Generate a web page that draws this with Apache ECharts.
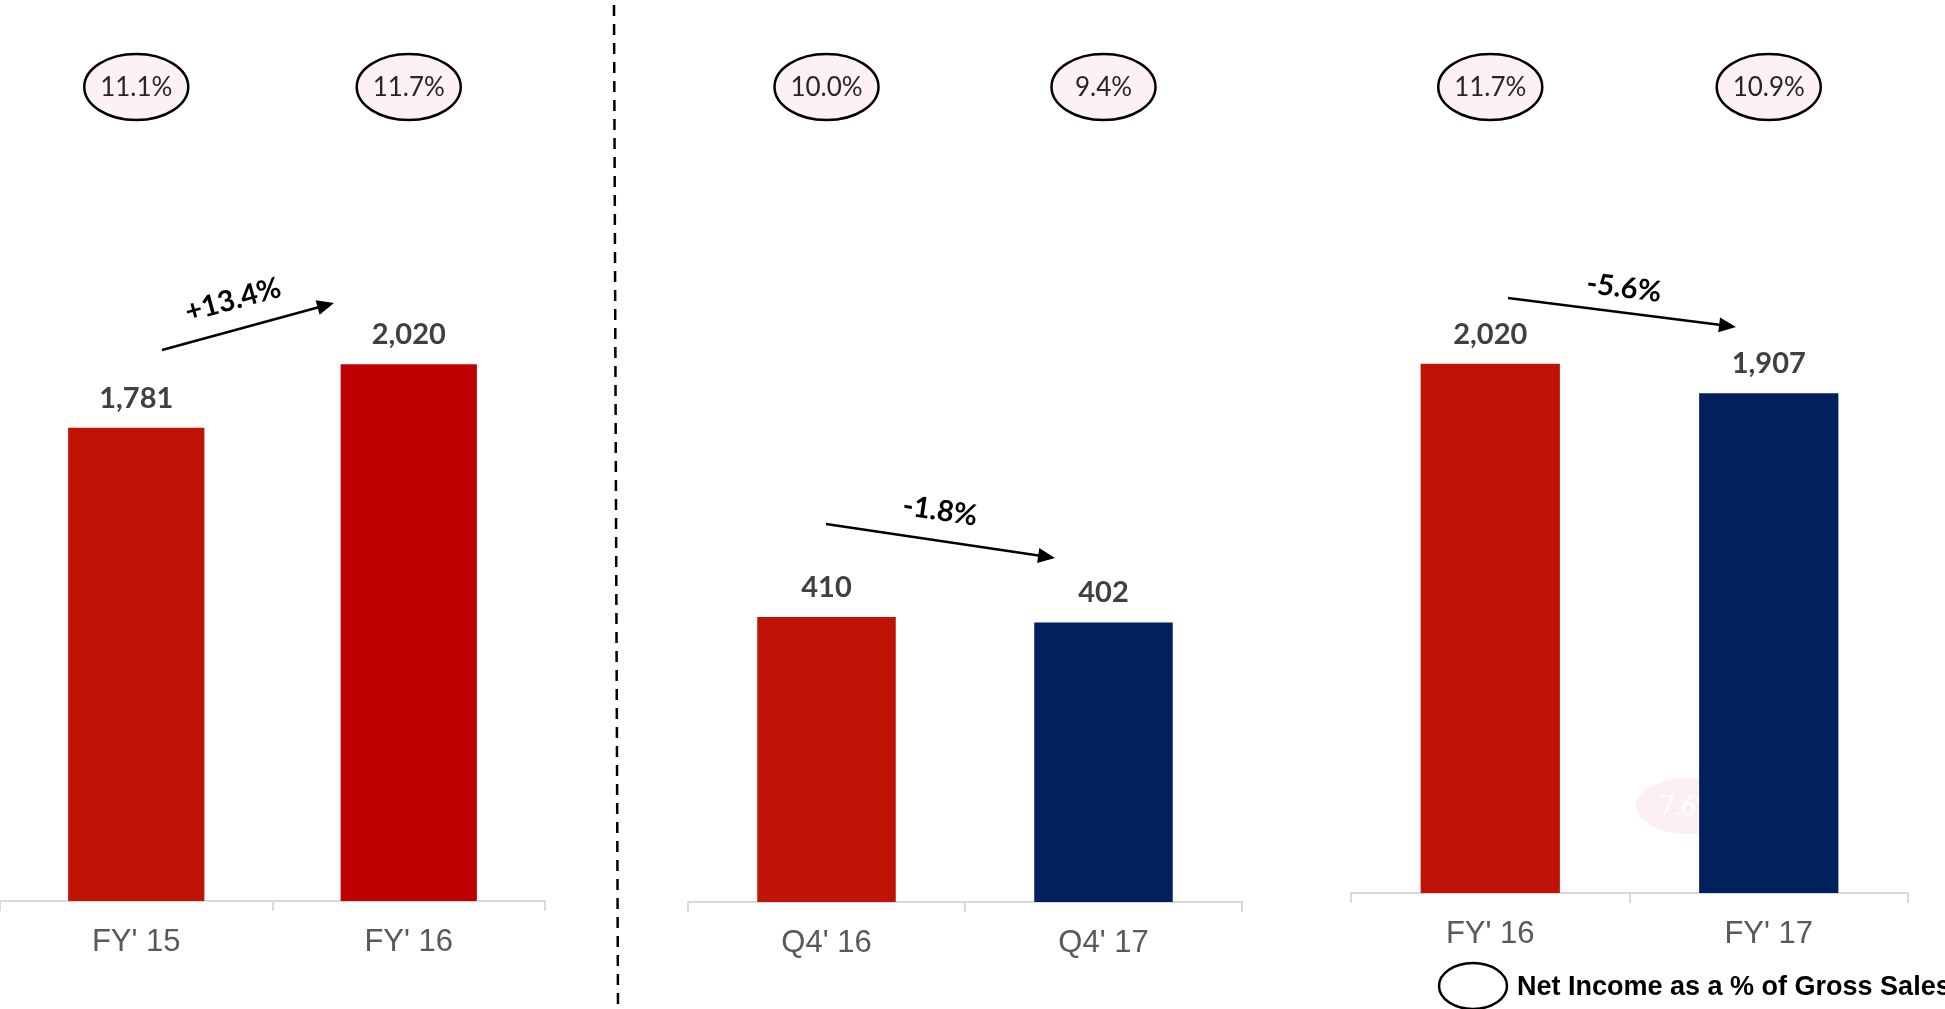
<!DOCTYPE html>
<html>
<head>
<meta charset="utf-8">
<title>Net Income</title>
<script src="https://cdn.jsdelivr.net/npm/echarts@6/dist/echarts.min.js"></script>
<style>
  html, body { margin: 0; padding: 0; background: #ffffff; }
  #chart { width: 1945px; height: 1009px; }
</style>
</head>
<body>
<div id="chart"></div>
<script>
// Net income, three comparisons
const fyCategories = ["FY' 15", "FY' 16"];
const fyValues = [1781, 2020];
const fyMargins = ['11.1%', '11.7%'];

const quarterCategories = ["Q4' 16", "Q4' 17"];
const quarterValues = [410, 402];
const quarterMargins = ['10.0%', '9.4%'];

const fy2Categories = ["FY' 16", "FY' 17"];
const fy2Values = [2020, 1907];
const fy2Margins = ['11.7%', '10.9%'];

const growthLabels = ['+13.4%', '-1.8%', '-5.6%'];
const legendText = 'Net Income as a % of Gross Sales';

// colours per bar
const RED = '#BF1306';
const DARK_RED = '#C00000';
const NAVY = '#03205E';
const panelColors = [[RED, DARK_RED], [RED, NAVY], [RED, NAVY]];

const chart = echarts.init(document.getElementById('chart'), null, { renderer: 'canvas' });

// panel geometry (pixels)
const grids = [
  { left: 0,    top: 104, width: 545, height: 797 },
  { left: 688,  top: 207, width: 554, height: 695 },
  { left: 1351, top: 107, width: 557, height: 786 }
];
const yMax = [3000, 1000, 3000];
const panelCats = [fyCategories, quarterCategories, fy2Categories];
const panelVals = [fyValues, quarterValues, fy2Values];
const panelMargins = [fyMargins, quarterMargins, fy2Margins];

function fmt(v) { return v.toLocaleString('en-US'); }

const option = {
  animation: false,
  backgroundColor: '#ffffff',
  grid: grids.map(g => Object.assign({ containLabel: false }, g)),
  xAxis: panelCats.map((cats, i) => ({
    type: 'category',
    gridIndex: i,
    data: cats,
    boundaryGap: true,
    axisLine: { show: true, lineStyle: { color: '#D9D9D9', width: 2 } },
    axisTick: { show: true, length: 10, lineStyle: { color: '#D9D9D9', width: 2 } },
    axisLabel: {
      margin: 26,
      color: '#595959',
      fontFamily: 'Liberation Sans, Arial, sans-serif',
      fontSize: 31
    }
  })),
  yAxis: yMax.map((m, i) => ({
    type: 'value',
    gridIndex: i,
    min: 0,
    max: m,
    show: false,
    splitLine: { show: false }
  })),
  series: panelVals.map((vals, i) => ({
    type: 'bar',
    xAxisIndex: i,
    yAxisIndex: i,
    barWidth: '50%',
    z: 2,
    data: vals.map((v, j) => ({ value: v, itemStyle: { color: panelColors[i][j] } })),
    label: {
      show: true,
      position: 'top',
      distance: 15,
      formatter: p => fmt(p.value),
      color: '#404040',
      fontFamily: 'Lato, sans-serif',
      fontWeight: 'bold',
      fontSize: 29
    }
  }))
};

chart.setOption(option);

// annotations: margin ellipses, growth arrows, separator, legend
const ELLIPSE_Y = 87;
const ELLIPSE_RX = 52;
const ELLIPSE_RY = 33;
const arrows = [
  { from: [162, 350], to: [334, 303], label: [233, 300] },
  { from: [826, 524], to: [1055, 558], label: [940, 511] },
  { from: [1508, 298], to: [1736, 327], label: [1624, 288] }
];

const elements = [];

panelCats.forEach((cats, i) => {
  cats.forEach((c, j) => {
    const x = chart.convertToPixel({ xAxisIndex: i }, c);
    elements.push({
      type: 'ellipse', z: 10,
      shape: { cx: x, cy: ELLIPSE_Y, rx: ELLIPSE_RX, ry: ELLIPSE_RY },
      style: { fill: '#FDF1F4', stroke: '#000000', lineWidth: 2.5 }
    });
    elements.push({
      type: 'text', z: 11, x: x, y: ELLIPSE_Y + 1,
      style: {
        text: panelMargins[i][j], align: 'center', verticalAlign: 'middle',
        fill: '#262626', fontFamily: 'Lato, sans-serif', fontSize: 26
      }
    });
  });
});

arrows.forEach((a, i) => {
  const dx = a.to[0] - a.from[0];
  const dy = a.to[1] - a.from[1];
  const len = Math.sqrt(dx * dx + dy * dy);
  const ux = dx / len, uy = dy / len;
  const headLen = 17, headHalf = 7.5;
  const bx = a.to[0] - ux * headLen, by = a.to[1] - uy * headLen;
  elements.push({
    type: 'line', z: 10,
    shape: { x1: a.from[0], y1: a.from[1], x2: bx + ux * 2, y2: by + uy * 2 },
    style: { stroke: '#000000', lineWidth: 2.5 }
  });
  elements.push({
    type: 'polygon', z: 10,
    shape: { points: [
      [a.to[0], a.to[1]],
      [bx - uy * headHalf, by + ux * headHalf],
      [bx + uy * headHalf, by - ux * headHalf]
    ] },
    style: { fill: '#000000' }
  });
  const ang = -Math.atan2(dy, dx);
  elements.push({
    type: 'text', z: 11, x: a.label[0], y: a.label[1], rotation: ang,
    style: {
      text: growthLabels[i], align: 'center', verticalAlign: 'middle',
      fill: '#000000', fontFamily: 'Lato, sans-serif', fontWeight: 'bold', fontSize: 29
    }
  });
});

// faded bubble sitting behind the last bar
elements.push({
  type: 'ellipse', z: 1,
  shape: { cx: 1688, cy: 806, rx: 52, ry: 28 },
  style: { fill: '#FDF0F3' }
});
elements.push({
  type: 'text', z: 1, x: 1688, y: 807,
  style: { text: '7.6%', align: 'center', verticalAlign: 'middle', fill: '#FFFFFF',
           fontFamily: 'Lato, sans-serif', fontSize: 26 }
});

// dashed separator
elements.push({
  type: 'line', z: 10,
  shape: { x1: 614, y1: 5, x2: 618, y2: 1009 },
  style: { stroke: '#000000', lineWidth: 2.5, lineDash: [11, 8] }
});

// legend
elements.push({
  type: 'ellipse', z: 10,
  shape: { cx: 1473, cy: 986, rx: 34, ry: 23 },
  style: { fill: '#FFFFFF', stroke: '#000000', lineWidth: 2.5 }
});
elements.push({
  type: 'text', z: 11, x: 1517, y: 988,
  style: { text: legendText, align: 'left', verticalAlign: 'middle', fill: '#000000',
           fontFamily: 'Liberation Sans, Arial, sans-serif', fontWeight: 'bold', fontSize: 27 }
});

chart.setOption({ graphic: { elements: elements } });
</script>
</body>
</html>
